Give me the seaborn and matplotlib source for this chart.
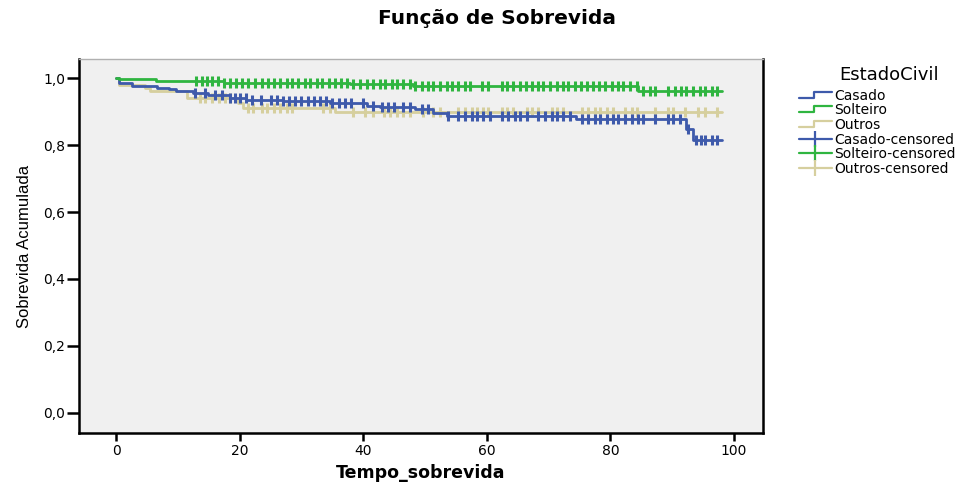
import numpy as np
import pandas as pd
import matplotlib
matplotlib.use("Agg")
import matplotlib.pyplot as plt
import seaborn as sns
from matplotlib.lines import Line2D
from matplotlib.legend_handler import HandlerBase
from matplotlib.ticker import FuncFormatter

# ---------------- data ----------------
groups = ["Casado", "Solteiro", "Outros"]
end_time = 98.0

casado_times = [0, 0.5, 2.6, 6.6, 8.5, 9.7, 12.5, 14.9, 18.4, 21.1, 27.0, 34.6, 40.6, 42.7, 48.4, 51.3, 53.5, 74.5, 92.2, 93.3]
casado_surv = [1.0, 0.986, 0.976, 0.971, 0.966, 0.962, 0.954, 0.950, 0.942, 0.936, 0.931, 0.925, 0.917, 0.914, 0.907, 0.895, 0.888, 0.878, 0.848, 0.815]
casado_cens = [12.8, 14.4, 16.0, 17.1, 18.5, 19.2, 20.0, 21.0, 22.0, 23.5, 25.0, 26.0, 27.0, 28.0, 29.0, 30.0,
               31.0, 32.0, 33.0, 34.0, 35.0, 36.0, 37.0, 38.0, 40.0, 41.5, 43.0, 44.0, 45.0, 46.5, 47.6, 49.5,
               50.5, 53.7, 55.4, 56.5, 57.6, 58.4, 59.4, 60.5, 62.4, 63.5, 64.6, 65.4, 66.5, 68.3, 69.4, 70.5,
               71.3, 72.4, 73.5, 75.4, 76.4, 77.5, 78.3, 79.4, 80.5, 81.3, 82.4, 83.5, 84.5, 85.3, 87.2, 89.4,
               90.2, 91.3, 92.6, 93.9, 94.6, 95.3, 96.4, 97.2]

solteiro_times = [0, 0.5, 6.5, 17.4, 32.5, 37.9, 48.0, 84.5]
solteiro_surv = [1.0, 0.996, 0.992, 0.986, 0.984, 0.981, 0.976, 0.961]
solteiro_cens = [12.9, 13.9, 14.7, 15.6, 16.5, 17.4, 18.4, 19.4, 20.3, 21.4, 22.5, 23.6, 24.6, 25.6, 26.5,
                 27.6, 28.4, 29.5, 30.6, 31.4, 32.5, 33.3, 34.4, 35.4, 36.4, 37.3, 38.4, 39.5, 40.6, 41.6,
                 42.7, 43.5, 44.6, 45.4, 46.5, 47.6, 48.4, 49.5, 50.5, 51.3, 52.4, 53.5, 54.3, 55.4, 56.5,
                 57.3, 59.2, 60.2, 62.4, 63.2, 64.3, 65.4, 66.3, 67.3, 68.3, 69.1, 70.2, 71.3, 72.3, 73.2,
                 74.3, 75.2, 76.2, 77.2, 78.2, 79.1, 80.2, 81.3, 82.1, 83.2, 84.3, 85.3, 86.4, 87.2, 89.4,
                 90.5, 91.5, 92.3, 93.4, 94.5, 95.3, 96.4, 97.2]

outros_times = [0, 0.5, 4.7, 5.5, 11.4, 19.8, 20.6, 35.4]
outros_surv = [1.0, 0.979, 0.969, 0.961, 0.942, 0.925, 0.910, 0.898]
outros_cens = [13.6, 14.4, 15.5, 16.6, 17.6, 18.4, 21.4, 22.2, 23.6, 24.4, 25.5, 26.5, 27.6, 28.4, 33.5,
               34.6, 38.4, 40.3, 41.6, 43.3, 44.3, 45.4, 46.5, 47.6, 49.7, 51.3, 52.4, 55.4, 56.5, 57.6,
               58.4, 59.4, 60.2, 62.4, 63.2, 64.3, 66.5, 67.3, 68.3, 70.5, 71.3, 72.4, 75.4, 76.4, 77.5,
               78.3, 79.4, 80.5, 82.4, 83.5, 84.3, 87.2, 89.4, 90.2, 92.1, 94.2, 95.3, 97.2]

x_ticks = [0, 20, 40, 60, 80, 100]
y_ticks = [0.0, 0.2, 0.4, 0.6, 0.8, 1.0]

colors = {"Casado": "#3e5aab", "Solteiro": "#2fb540", "Outros": "#d6cf9e"}

# ---------------- build tables ----------------
series = {
    "Casado": (casado_times, casado_surv, casado_cens),
    "Solteiro": (solteiro_times, solteiro_surv, solteiro_cens),
    "Outros": (outros_times, outros_surv, outros_cens),
}
step_rows, cens_rows = [], []
for g, (t, s, c) in series.items():
    tt = list(t) + [end_time]
    ss = list(s) + [s[-1]]
    for a, b in zip(tt, ss):
        step_rows.append({"Tempo": a, "S": b, "Grupo": g})
    t_arr = np.asarray(t)
    s_arr = np.asarray(s)
    for ct in c:
        idx = np.searchsorted(t_arr, ct, side="right") - 1
        cens_rows.append({"Tempo": ct, "S": s_arr[idx], "Grupo": g})
steps = pd.DataFrame(step_rows)
cens = pd.DataFrame(cens_rows)

# ---------------- plot ----------------
sns.set_theme(style="white")
plt.rcParams["font.family"] = ["DejaVu Sans"]
plt.rcParams["text.color"] = "black"
plt.rcParams["axes.labelcolor"] = "black"

fig = plt.figure(figsize=(9.79, 4.82), dpi=100)
ax = fig.add_axes([0.0807, 0.1017, 0.6987, 0.7759])
ax.set_facecolor("#f0f0f0")

draw_order = ["Outros", "Casado", "Solteiro"]
for g in draw_order:
    sub = steps[steps["Grupo"] == g]
    sns.lineplot(data=sub, x="Tempo", y="S", ax=ax, color=colors[g], lw=2.0,
                 drawstyle="steps-post", estimator=None, sort=False, legend=False)
    csub = cens[cens["Grupo"] == g]
    ax.plot(csub["Tempo"], csub["S"], ls="none", marker="|", ms=7, mew=2.2,
            color=colors[g])

ax.set_xlim(-6, 104.7)
ax.set_ylim(-0.06, 1.057)
ax.set_xticks(x_ticks)
ax.set_yticks(y_ticks)
ax.yaxis.set_major_formatter(FuncFormatter(lambda v, p: f"{v:.1f}".replace(".", ",")))
ax.xaxis.set_major_formatter(FuncFormatter(lambda v, p: f"{v:.0f}"))
ax.tick_params(axis="both", direction="out", width=1.8, color="black",
               labelsize=10, labelcolor="black", left=True, bottom=True)
ax.tick_params(axis="y", length=9, pad=1)
ax.tick_params(axis="x", length=6, pad=2)
for side in ["left", "bottom", "right"]:
    ax.spines[side].set_color("black")
    ax.spines[side].set_linewidth(1.8)
ax.spines["top"].set_color("#b0b0b0")
ax.spines["top"].set_linewidth(1.0)

ax.set_xlabel("Tempo_sobrevida", fontsize=12.5, fontweight="bold", color="black")
ax.xaxis.set_label_coords(0.5, -0.083)
ax.set_ylabel("Sobrevida Acumulada", fontsize=12, color="black",
              family=["Liberation Sans", "DejaVu Sans"], labelpad=8)
fig.text(0.508, 0.962, "Função de Sobrevida", ha="center", va="center",
         fontsize=14.5, fontweight="bold", color="black")
fig.text(889 / 979, 1 - 75 / 482, "EstadoCivil", ha="center", va="center",
         fontsize=13, color="black")


class StepHandler(HandlerBase):
    def create_artists(self, legend, orig_handle, xdescent, ydescent, width, height, fontsize, trans):
        x0 = -xdescent
        y0 = -ydescent + height * 0.2
        y1 = -ydescent + height * 0.8
        xs = [x0, x0 + width * 0.45, x0 + width * 0.45, x0 + width]
        ys = [y0, y0, y1, y1]
        ln = Line2D(xs, ys, color=orig_handle.get_color(), lw=1.6, transform=trans)
        return [ln]


handles, labels, hmap = [], [], {}
for g in groups:
    h = Line2D([], [], color=colors[g], lw=1.6)
    handles.append(h)
    labels.append(g)
    hmap[h] = StepHandler()
for g in groups:
    h = Line2D([0, 1], [0, 0], color=colors[g], lw=1.6)
    handles.append(h)
    labels.append(f"{g}-censored")

leg = fig.legend(handles, labels, handler_map=hmap, loc="upper left",
                 bbox_to_anchor=(0.806, 0.8365), frameon=False,
                 fontsize=10, handlelength=2.4, handletextpad=0.15,
                 labelspacing=0.05, borderpad=0.2)
for t in leg.get_texts():
    t.set_color("black")
for h in leg.legend_handles[3:]:
    h.set_marker("|")
    h.set_markersize(11)
    h.set_markeredgewidth(1.6)
    h.set_markevery([1])

fig.savefig("out.png", dpi=100)
